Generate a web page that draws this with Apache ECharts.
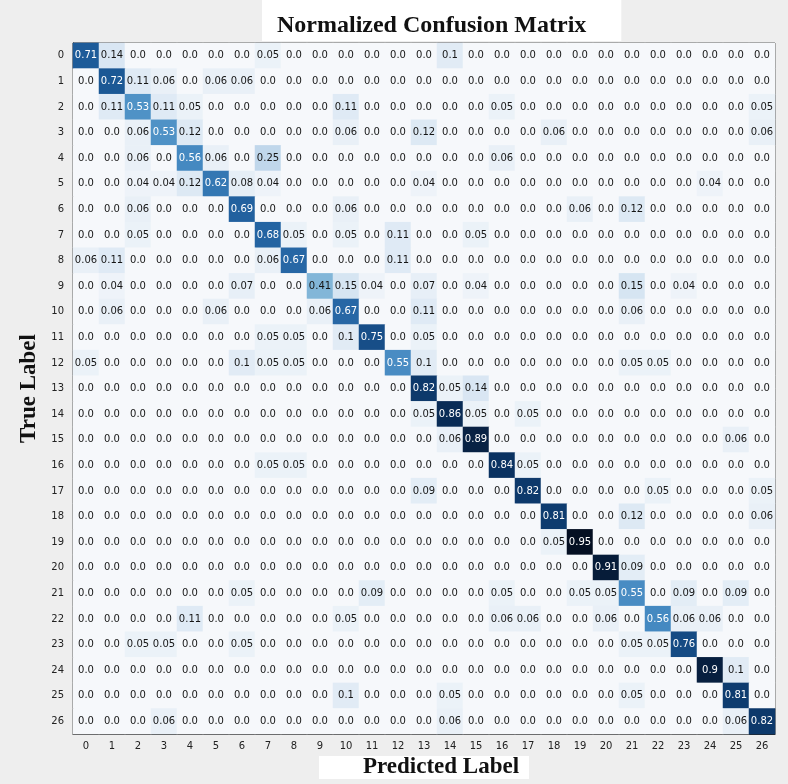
<!DOCTYPE html>
<html><head><meta charset="utf-8">
<script src="https://cdn.jsdelivr.net/npm/echarts@6/dist/echarts.min.js"></script>
<style>html,body{margin:0;padding:0;background:#eeeeee}#c{width:788px;height:784px}</style>
</head><body><div id="c"></div>
<script>
const classLabels = ['0','1','2','3','4','5','6','7','8','9','10','11','12','13','14','15','16','17','18','19','20','21','22','23','24','25','26'];
const rows = [
[0.71,0.14,0,0,0,0,0,0.05,0,0,0,0,0,0,0.1,0,0,0,0,0,0,0,0,0,0,0,0],
[0,0.72,0.11,0.06,0,0.06,0.06,0,0,0,0,0,0,0,0,0,0,0,0,0,0,0,0,0,0,0,0],
[0,0.11,0.53,0.11,0.05,0,0,0,0,0,0.11,0,0,0,0,0,0.05,0,0,0,0,0,0,0,0,0,0.05],
[0,0,0.06,0.53,0.12,0,0,0,0,0,0.06,0,0,0.12,0,0,0,0,0.06,0,0,0,0,0,0,0,0.06],
[0,0,0.06,0,0.56,0.06,0,0.25,0,0,0,0,0,0,0,0,0.06,0,0,0,0,0,0,0,0,0,0],
[0,0,0.04,0.04,0.12,0.62,0.08,0.04,0,0,0,0,0,0.04,0,0,0,0,0,0,0,0,0,0,0.04,0,0],
[0,0,0.06,0,0,0,0.69,0,0,0,0.06,0,0,0,0,0,0,0,0,0.06,0,0.12,0,0,0,0,0],
[0,0,0.05,0,0,0,0,0.68,0.05,0,0.05,0,0.11,0,0,0.05,0,0,0,0,0,0,0,0,0,0,0],
[0.06,0.11,0,0,0,0,0,0.06,0.67,0,0,0,0.11,0,0,0,0,0,0,0,0,0,0,0,0,0,0],
[0,0.04,0,0,0,0,0.07,0,0,0.41,0.15,0.04,0,0.07,0,0.04,0,0,0,0,0,0.15,0,0.04,0,0,0],
[0,0.06,0,0,0,0.06,0,0,0,0.06,0.67,0,0,0.11,0,0,0,0,0,0,0,0.06,0,0,0,0,0],
[0,0,0,0,0,0,0,0.05,0.05,0,0.1,0.75,0,0.05,0,0,0,0,0,0,0,0,0,0,0,0,0],
[0.05,0,0,0,0,0,0.1,0.05,0.05,0,0,0,0.55,0.1,0,0,0,0,0,0,0,0.05,0.05,0,0,0,0],
[0,0,0,0,0,0,0,0,0,0,0,0,0,0.82,0.05,0.14,0,0,0,0,0,0,0,0,0,0,0],
[0,0,0,0,0,0,0,0,0,0,0,0,0,0.05,0.86,0.05,0,0.05,0,0,0,0,0,0,0,0,0],
[0,0,0,0,0,0,0,0,0,0,0,0,0,0,0.06,0.89,0,0,0,0,0,0,0,0,0,0.06,0],
[0,0,0,0,0,0,0,0.05,0.05,0,0,0,0,0,0,0,0.84,0.05,0,0,0,0,0,0,0,0,0],
[0,0,0,0,0,0,0,0,0,0,0,0,0,0.09,0,0,0,0.82,0,0,0,0,0.05,0,0,0,0.05],
[0,0,0,0,0,0,0,0,0,0,0,0,0,0,0,0,0,0,0.81,0,0,0.12,0,0,0,0,0.06],
[0,0,0,0,0,0,0,0,0,0,0,0,0,0,0,0,0,0,0.05,0.95,0,0,0,0,0,0,0],
[0,0,0,0,0,0,0,0,0,0,0,0,0,0,0,0,0,0,0,0,0.91,0.09,0,0,0,0,0],
[0,0,0,0,0,0,0.05,0,0,0,0,0.09,0,0,0,0,0.05,0,0,0.05,0.05,0.55,0,0.09,0,0.09,0],
[0,0,0,0,0.11,0,0,0,0,0,0.05,0,0,0,0,0,0.06,0.06,0,0,0.06,0,0.56,0.06,0.06,0,0],
[0,0,0.05,0.05,0,0,0.05,0,0,0,0,0,0,0,0,0,0,0,0,0,0,0.05,0.05,0.76,0,0,0],
[0,0,0,0,0,0,0,0,0,0,0,0,0,0,0,0,0,0,0,0,0,0,0,0,0.9,0.1,0],
[0,0,0,0,0,0,0,0,0,0,0.1,0,0,0,0.05,0,0,0,0,0,0,0.05,0,0,0,0.81,0],
[0,0,0,0.06,0,0,0,0,0,0,0,0,0,0,0.06,0,0,0,0,0,0,0,0,0,0,0.06,0.82]
];

function fmt(v){ let s = v.toFixed(2); if (s.endsWith('0')) s = s.slice(0,-1); return s; }
let vmax = 0;
rows.forEach(r => r.forEach(v => { if (v > vmax) vmax = v; }));
const data = [];
rows.forEach((r, i) => r.forEach((v, j) => {
  data.push({ value: [j, i, v], label: { color: v > vmax / 2 ? '#ffffff' : '#151515' } });
}));

const chart = echarts.init(document.getElementById('c'));
chart.setOption({
  backgroundColor: '#eeeeee',
  animation: false,
  title: {
    text: 'Normalized Confusion Matrix',
    left: 262, top: 0,
    backgroundColor: '#ffffff',
    padding: [14, 35, 3, 15],
    textStyle: { fontFamily: 'Liberation Serif', fontWeight: 'bold', fontSize: 24, color: '#111' }
  },
  grid: { left: 73, top: 43, right: 13, bottom: 40, show: true, borderColor: '#333', borderWidth: 1, backgroundColor: '#f6f8fa' },
  xAxis: {
    type: 'category', data: classLabels,
    name: 'Predicted Label', nameLocation: 'middle', nameGap: 20,
    nameTextStyle: { fontFamily: 'Liberation Serif', fontWeight: 'bold', fontSize: 23, color: '#111', backgroundColor: '#ffffff', padding: [0, 10, 0, 44] },
    axisLine: { lineStyle: { color: '#222', width: 1 } },
    axisTick: { alignWithLabel: true, length: 4, lineStyle: { color: '#222' } },
    axisLabel: { fontFamily: 'DejaVu Sans', fontSize: 10, color: '#222', margin: 7 },
    splitLine: { show: false }
  },
  yAxis: {
    type: 'category', data: classLabels, inverse: true,
    name: 'True Label', nameLocation: 'middle', nameGap: 24, nameRotate: 90,
    nameTextStyle: { fontFamily: 'Liberation Serif', fontWeight: 'bold', fontSize: 23, color: '#111' },
    axisLine: { lineStyle: { color: '#222', width: 1 } },
    axisTick: { alignWithLabel: true, length: 4, lineStyle: { color: '#222' } },
    axisLabel: { fontFamily: 'DejaVu Sans', fontSize: 10, color: '#222', margin: 9 },
    splitLine: { show: false }
  },
  visualMap: {
    show: false, min: 0, max: vmax, dimension: 2,
    inRange: { color: ['#f6f8fb', '#dde9f4', '#c4d9ec', '#9cc5df', '#62a3d0', '#3a7fbb', '#1c5a98', '#0b3566', '#040f22'] }
  },
  series: [{
    type: 'heatmap',
    data: data,
    label: {
      show: true, fontFamily: 'DejaVu Sans', fontSize: 10,
      formatter: p => fmt(p.value[2])
    },
    itemStyle: { borderWidth: 0 },
    emphasis: { disabled: true }
  }]
});
</script></body></html>
